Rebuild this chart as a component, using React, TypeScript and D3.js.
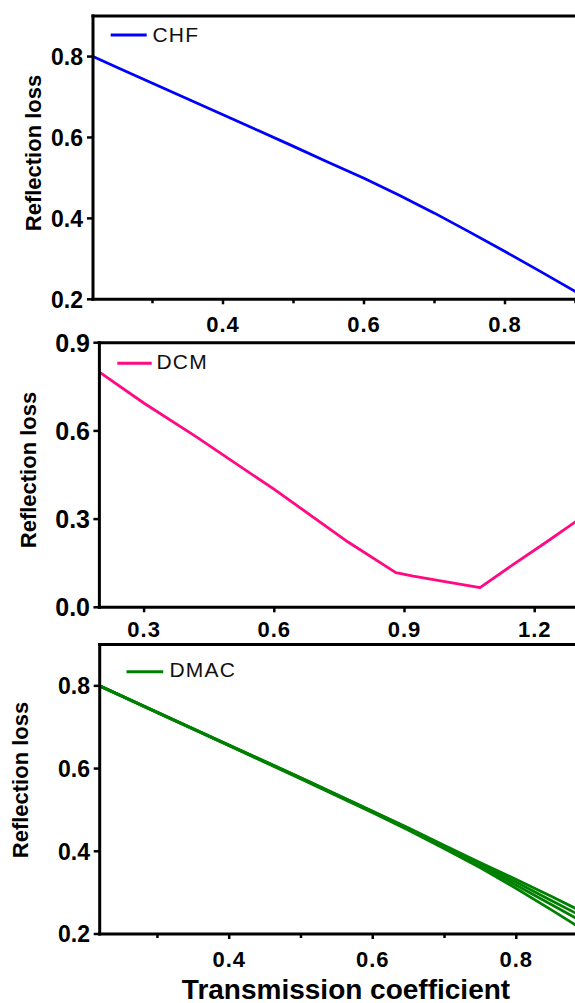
import React from "react";
import * as d3 from "d3";

// ---------- data ----------
const chfX = [0.2156, 0.25, 0.3, 0.35, 0.4, 0.45, 0.5, 0.55, 0.6, 0.65, 0.7, 0.75, 0.8, 0.85, 0.9, 0.95];
const chfY = [0.8, 0.773, 0.734, 0.695, 0.656, 0.617, 0.578, 0.538, 0.499, 0.457, 0.413, 0.366, 0.318, 0.269, 0.219, 0.17];

const dcmX = [0.197, 0.3, 0.417, 0.6, 0.77, 0.88, 0.92, 1.0, 1.074, 1.15, 1.228, 1.3, 1.4];
const dcmY = [0.8, 0.694, 0.583, 0.401, 0.222, 0.118, 0.106, 0.086, 0.067, 0.145, 0.223, 0.297, 0.4];

const dmacX = [0.2195, 0.3, 0.4, 0.5, 0.6, 0.65, 0.7, 0.75, 0.8, 0.85, 0.9, 0.95];
const dmacA = [0.8, 0.736, 0.657, 0.578, 0.497, 0.456, 0.414, 0.372, 0.332, 0.29, 0.247, 0.205];
const dmacB = [0.8, 0.736, 0.656, 0.577, 0.496, 0.455, 0.412, 0.368, 0.325, 0.28, 0.235, 0.19];
const dmacC = [0.8, 0.735, 0.656, 0.576, 0.495, 0.453, 0.409, 0.364, 0.318, 0.27, 0.222, 0.175];
const dmacD = [0.8, 0.735, 0.655, 0.575, 0.493, 0.451, 0.406, 0.36, 0.31, 0.257, 0.203, 0.15];

const p1YTicks = [0.2, 0.4, 0.6, 0.8];
const p1XTicks = [0.4, 0.6, 0.8];
const p1XMinor = [0.3, 0.5, 0.7, 0.9];
const p2YTicks = [0.0, 0.3, 0.6, 0.9];
const p2XTicks = [0.3, 0.6, 0.9, 1.2];
const p3YTicks = [0.2, 0.4, 0.6, 0.8];
const p3XTicks = [0.4, 0.6, 0.8];
const p3XMinor = [0.3, 0.5, 0.7, 0.9];

const yTitle = "Reflection loss";
const xTitle = "Transmission coefficient";

const FONT = "'Liberation Sans', Arial, sans-serif";

type Series = { xs: number[]; ys: number[]; color: string };

type PanelProps = {
  id: string;
  left: number;
  top: number;
  bottom: number;
  xDomain: [number, number];
  xRange: [number, number];
  yDomain: [number, number];
  yTicks: number[];
  xTicks: number[];
  xMinor: number[];
  yFmt: (v: number) => string;
  xFmt: (v: number) => string;
  yFont: number;
  xFont: number;
  yLabelRight: number;
  xLabelBase: number;
  series: Series[];
  legend: { name: string; color: string; x1: number; x2: number; y: number; tx: number; base: number };
  yTitlePos: [number, number];
};

function Panel(p: PanelProps) {
  const x = d3.scaleLinear().domain(p.xDomain).range(p.xRange);
  const y = d3.scaleLinear().domain(p.yDomain).range([p.bottom, p.top]);
  const line = d3
    .line<[number, number]>()
    .x((d) => x(d[0]))
    .y((d) => y(d[1]));
  const right = 600;
  return (
    <g>
      <defs>
        <clipPath id={`clip-${p.id}`}>
          <rect x={p.left} y={p.top} width={right - p.left} height={p.bottom - p.top} />
        </clipPath>
      </defs>
      <g clipPath={`url(#clip-${p.id})`}>
        {p.series.map((s, i) => (
          <path
            key={i}
            d={line(s.xs.map((v, j) => [v, s.ys[j]] as [number, number])) || ""}
            fill="none"
            stroke={s.color}
            strokeWidth={2.8}
            strokeLinejoin="round"
          />
        ))}
      </g>
      {/* frame */}
      <line x1={p.left} x2={p.left} y1={p.top - 1.5} y2={p.bottom + 1.5} stroke="#000" strokeWidth={3} />
      <line x1={p.left - 1.5} x2={right} y1={p.top} y2={p.top} stroke="#000" strokeWidth={3} />
      <line x1={p.left - 1.5} x2={right} y1={p.bottom} y2={p.bottom} stroke="#000" strokeWidth={3} />
      {/* y ticks */}
      {p.yTicks.map((t) => (
        <g key={`y${t}`}>
          <line x1={p.left - 6} x2={p.left} y1={y(t)} y2={y(t)} stroke="#000" strokeWidth={2.5} />
          <text
            x={p.yLabelRight}
            y={y(t)}
            dy="0.36em"
            textAnchor="end"
            fontFamily={FONT}
            fontWeight="bold"
            fontSize={p.yFont}
          >
            {p.yFmt(t)}
          </text>
        </g>
      ))}
      {/* x ticks */}
      {p.xTicks.map((t) => (
        <g key={`x${t}`}>
          <line x1={x(t)} x2={x(t)} y1={p.bottom} y2={p.bottom + 5} stroke="#000" strokeWidth={2.5} />
          <text
            x={x(t)}
            y={p.xLabelBase}
            textAnchor="middle"
            fontFamily={FONT}
            fontWeight="bold"
            fontSize={p.xFont}
            letterSpacing={1}
          >
            {p.xFmt(t)}
          </text>
        </g>
      ))}
      {p.xMinor.map((t) => (
        <line key={`m${t}`} x1={x(t)} x2={x(t)} y1={p.bottom} y2={p.bottom + 4} stroke="#000" strokeWidth={2.5} />
      ))}
      {/* legend */}
      <line
        x1={p.legend.x1}
        x2={p.legend.x2}
        y1={p.legend.y}
        y2={p.legend.y}
        stroke={p.legend.color}
        strokeWidth={3}
      />
      <text x={p.legend.tx} y={p.legend.base} fontFamily={FONT} fontSize={21} letterSpacing={1.2} fill="#111">
        {p.legend.name}
      </text>
      {/* y title */}
      <text
        transform={`translate(${p.yTitlePos[0]},${p.yTitlePos[1]}) rotate(-90)`}
        textAnchor="middle"
        dy="0.36em"
        fontFamily={FONT}
        fontWeight="bold"
        fontSize={22}
      >
        {yTitle}
      </text>
    </g>
  );
}

export default function App() {
  const f1 = d3.format(".1f");
  return (
    <svg
      width={575}
      height={1003}
      style={{ position: "absolute", left: 0, top: 0, background: "#fff" }}
    >
      <rect width={575} height={1003} fill="#fff" />
      <Panel
        id="chf"
        left={93}
        top={16.1}
        bottom={299.3}
        xDomain={[0.4, 0.8]}
        xRange={[223, 505]}
        yDomain={[0.2, 0.9]}
        yTicks={p1YTicks}
        xTicks={p1XTicks}
        xMinor={p1XMinor}
        yFmt={f1}
        xFmt={f1}
        yFont={23}
        xFont={22}
        yLabelRight={83}
        xLabelBase={332}
        series={[{ xs: chfX, ys: chfY, color: "#0000ff" }]}
        legend={{ name: "CHF", color: "#0000ff", x1: 110.7, x2: 146.7, y: 35, tx: 152.5, base: 41.7 }}
        yTitlePos={[33, 153]}
      />
      <Panel
        id="dcm"
        left={99.4}
        top={342.7}
        bottom={607.3}
        xDomain={[0.3, 1.2]}
        xRange={[144.1, 534.7]}
        yDomain={[0, 0.9]}
        yTicks={p2YTicks}
        xTicks={p2XTicks}
        xMinor={[]}
        yFmt={f1}
        xFmt={f1}
        yFont={25}
        xFont={22}
        yLabelRight={90}
        xLabelBase={637}
        series={[{ xs: dcmX, ys: dcmY, color: "#ff0a82" }]}
        legend={{ name: "DCM", color: "#ff0a82", x1: 117.3, x2: 151.7, y: 363.3, tx: 156.5, base: 369.3 }}
        yTitlePos={[28.5, 470]}
      />
      <Panel
        id="dmac"
        left={99.7}
        top={644.5}
        bottom={934}
        xDomain={[0.4, 0.8]}
        xRange={[229.2, 516.3]}
        yDomain={[0.2, 0.9]}
        yTicks={p3YTicks}
        xTicks={p3XTicks}
        xMinor={p3XMinor}
        yFmt={f1}
        xFmt={f1}
        yFont={23}
        xFont={22}
        yLabelRight={90}
        xLabelBase={967}
        series={[
          { xs: dmacX, ys: dmacA, color: "#008000" },
          { xs: dmacX, ys: dmacB, color: "#008000" },
          { xs: dmacX, ys: dmacC, color: "#008000" },
          { xs: dmacX, ys: dmacD, color: "#008000" },
        ]}
        legend={{ name: "DMAC", color: "#008000", x1: 126.5, x2: 163.2, y: 671.7, tx: 169.4, base: 676.7 }}
        yTitlePos={[20, 780]}
      />
      <text
        x={346}
        y={998.5}
        textAnchor="middle"
        fontFamily={FONT}
        fontWeight="bold"
        fontSize={28}
      >
        {xTitle}
      </text>
    </svg>
  );
}
